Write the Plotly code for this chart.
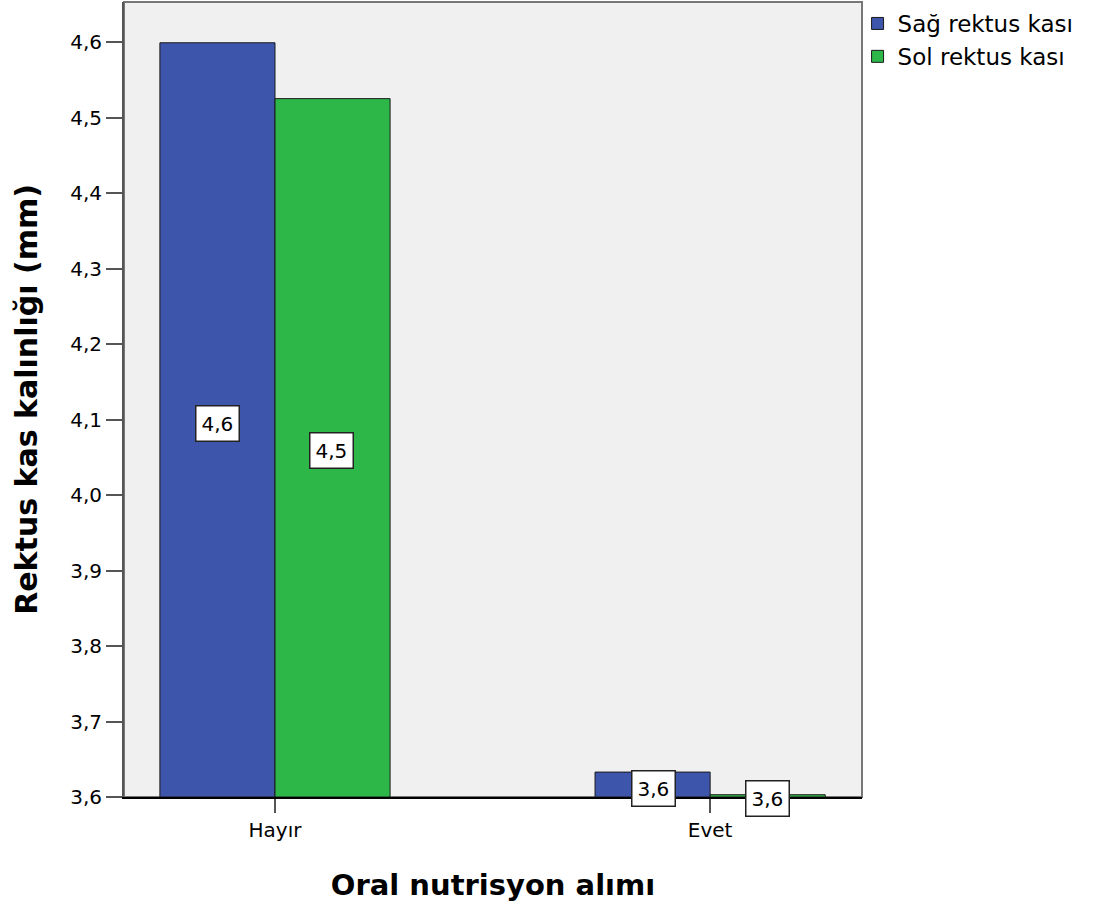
import plotly.graph_objects as go

categories = ["Hayır", "Evet"]
sag_values = [4.599, 3.633]
sol_values = [4.525, 3.603]
sag_labels = ["4,6", "3,6"]
sol_labels = ["4,5", "3,6"]
series_names = ["Sağ rektus kası", "Sol rektus kası"]
y_ticks = [3.6, 3.7, 3.8, 3.9, 4.0, 4.1, 4.2, 4.3, 4.4, 4.5, 4.6]

BLUE = "#3d55aa"
GREEN = "#2db748"
FONT = "DejaVu Sans, Liberation Sans, Arial, sans-serif"

fig = go.Figure()
base = 3.6
fig.add_trace(go.Bar(x=categories, y=[v - base for v in sag_values], base=base,
                     name=series_names[0], marker=dict(color=BLUE, line=dict(color="#1a1a1a", width=1))))
fig.add_trace(go.Bar(x=categories, y=[v - base for v in sol_values], base=base,
                     name=series_names[1], marker=dict(color=GREEN, line=dict(color="#1a1a1a", width=1))))

annotations = []
for cat, v, lab in zip(categories, sag_values, sag_labels):
    annotations.append(dict(x=cat, y=(v + base) / 2, text=lab, xref="x", yref="y", xshift=-57, yshift=-4,
                            showarrow=False, bgcolor="white", bordercolor="#222", borderwidth=1.5,
                            borderpad=5, font=dict(family=FONT, size=20, color="black")))
for cat, v, lab in zip(categories, sol_values, sol_labels):
    annotations.append(dict(x=cat, y=(v + base) / 2, text=lab, xref="x", yref="y", xshift=57, yshift=-3,
                            showarrow=False, bgcolor="white", bordercolor="#222", borderwidth=1.5,
                            borderpad=5, font=dict(family=FONT, size=20, color="black")))

fig.update_layout(
    width=1104, height=913,
    margin=dict(l=124, r=242, t=2, b=116),
    paper_bgcolor="white", plot_bgcolor="#f0f0f0",
    barmode="group", bargap=0.471, bargroupgap=0,
    separators=",.",
    font=dict(family=FONT, color="black"),
    showlegend=True,
    legend=dict(x=0.994, y=1.0, xanchor="left", yanchor="top", bgcolor="rgba(0,0,0,0)",
                font=dict(family=FONT, size=23), tracegroupgap=0),
    annotations=annotations,
    xaxis=dict(range=[-0.347, 1.349], showline=True, linecolor="black", linewidth=2,
               ticks="outside", ticklen=14, tickwidth=2, tickcolor="#555",
               tickfont=dict(family=FONT, size=20), showgrid=False, mirror=False, automargin=False,
               title=dict(text="<b>Oral nutrisyon alımı</b>", font=dict(family=FONT, size=29), standoff=34)),
    yaxis=dict(range=[3.6, 4.653], tickvals=y_ticks, tickformat=".1f", showline=True,
               linecolor="#555", linewidth=2, ticks="outside", ticklen=16, tickwidth=2,
               tickcolor="#555", tickfont=dict(family=FONT, size=20), showgrid=False, zeroline=False,
               automargin=False,
               title=dict(text="<b>Rektus kas kalınlığı (mm)</b>", font=dict(family=FONT, size=30), standoff=24)),
    shapes=[dict(type="rect", xref="paper", yref="paper", x0=0, x1=1, y0=0, y1=1,
                 line=dict(color="#777", width=2), fillcolor="rgba(0,0,0,0)", layer="below")],
)

fig.write_html("out.html", config={"displayModeBar": False},
               post_script="document.body.style.margin='0';")
